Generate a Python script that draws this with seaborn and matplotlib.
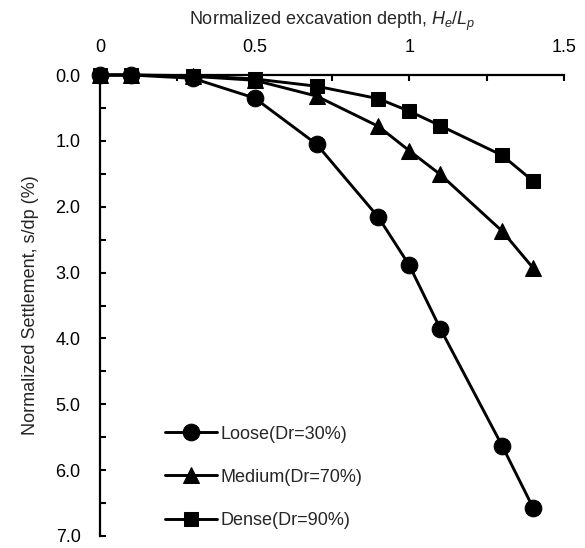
import matplotlib
matplotlib.use("Agg")
import matplotlib.pyplot as plt
import seaborn as sns
import pandas as pd
from matplotlib.ticker import MultipleLocator, FormatStrFormatter, FixedFormatter, FixedLocator

sns.set_theme(style="white")
plt.rcParams['font.family'] = ['Liberation Sans', 'DejaVu Sans']
plt.rcParams['mathtext.fontset'] = 'custom'
plt.rcParams['mathtext.it'] = 'Liberation Sans:italic'
plt.rcParams['mathtext.rm'] = 'Liberation Sans'

# Normalized excavation depth He/Lp
depth = [0, 0.1, 0.3, 0.5, 0.7, 0.9, 1.0, 1.1, 1.3, 1.4]
# Normalized settlement s/dp (%)
loose = [0.0, 0.0, 0.05, 0.35, 1.05, 2.16, 2.89, 3.85, 5.63, 6.57]
medium = [0.0, 0.0, 0.02, 0.08, 0.32, 0.78, 1.15, 1.51, 2.37, 2.93]
dense = [0.0, 0.0, 0.01, 0.06, 0.17, 0.36, 0.55, 0.77, 1.22, 1.61]

series_names = ["Loose(Dr=30%)", "Medium(Dr=70%)", "Dense(Dr=90%)"]
series_values = [loose, medium, dense]
series_markers = ["o", "^", "s"]
series_msize = [12, 11.5, 10.5]

fig = plt.figure(figsize=(5.85, 5.48), dpi=100)
ax = fig.add_axes([100 / 585, 1 - 536 / 548, 464 / 585, 461 / 548])

for name, vals, mk, ms in zip(series_names, series_values, series_markers, series_msize):
    df = pd.DataFrame({"depth": depth, "settlement": vals})
    sns.lineplot(data=df, x="depth", y="settlement", ax=ax, color="black",
                 marker=mk, markersize=ms, linewidth=2.1, label=name,
                 markeredgecolor="black", markerfacecolor="black", clip_on=False, zorder=3)

ax.set_xlim(0, 1.5)
ax.set_ylim(7, 0)

ax.xaxis.set_ticks_position("top")
ax.xaxis.set_label_position("top")
ax.xaxis.set_minor_locator(MultipleLocator(0.25))
ax.xaxis.set_major_locator(FixedLocator([0, 0.5, 1.0, 1.5]))
ax.xaxis.set_major_formatter(FixedFormatter(["0", "0.5", "1", "1.5"]))
ax.yaxis.set_major_locator(MultipleLocator(1.0))
ax.yaxis.set_minor_locator(MultipleLocator(0.5))
ax.yaxis.set_major_formatter(FormatStrFormatter("%.1f"))

for side in ["bottom", "right"]:
    ax.spines[side].set_visible(False)
for side in ["top", "left"]:
    ax.spines[side].set_color("black")
    ax.spines[side].set_linewidth(1.6)

ax.tick_params(axis="both", which="both", direction="in", length=4, width=1.5,
               colors="black", labelsize=13, pad=14)
ax.tick_params(axis="x", which="both", top=True, bottom=False)
ax.tick_params(axis="y", which="both", left=True, right=False)

ax.set_xlabel(r"Normalized excavation depth, $H_e/L_p$", fontsize=13, labelpad=10)
ax.set_ylabel("Normalized Settlement, s/dp (%)", fontsize=13, labelpad=12)

leg = ax.legend(loc="lower left", bbox_to_anchor=(0.105, -0.02), frameon=False,
                fontsize=13, labelspacing=1.45, handlelength=2.9, handletextpad=0.2)

fig.savefig("out.png", dpi=100)
